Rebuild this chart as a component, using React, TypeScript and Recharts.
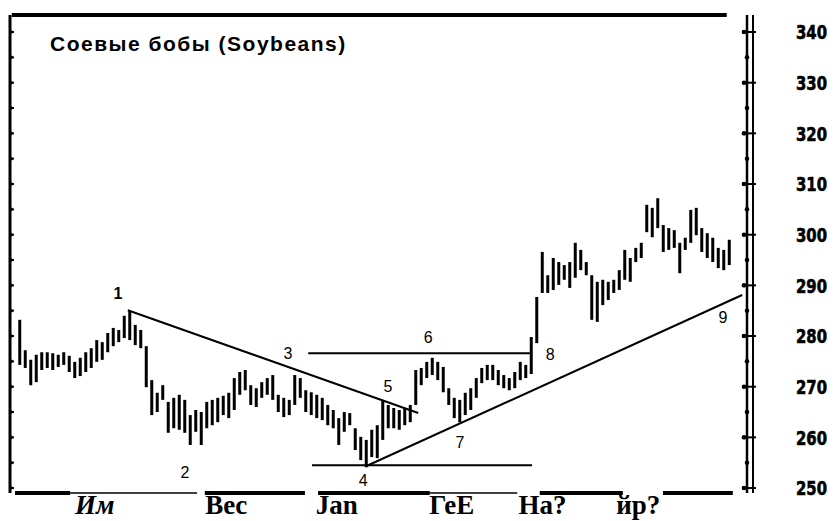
import { Bar, ComposedChart, ReferenceDot, ReferenceLine, XAxis, YAxis } from 'recharts'

// daily highs / lows, one per session
const highs = [
  283.2, 277.2, 275.3, 276.3, 276.8, 276.8, 276.6, 276.3, 276.8, 276.1,
  274.9, 275.7, 276.8, 277.6, 279.2, 278.8, 280.6, 281.6, 281.2, 284.0,
  284.9, 282.2, 281.2, 278.0, 271.3, 268.8, 270.3, 267.0, 267.8, 268.4,
  267.4, 264.4, 265.4, 265.0, 267.0, 267.4, 267.8, 268.2, 268.8, 271.7,
  272.9, 273.3, 270.3, 269.7, 270.9, 271.7, 272.3, 268.4, 267.8, 267.4,
  272.3, 271.7, 269.3, 268.9, 268.4, 267.8, 266.4, 265.4, 263.8, 265.0,
  264.8, 261.8, 260.1, 259.5, 261.5, 262.4, 267.4, 266.4, 265.8, 265.4,
  265.8, 266.4, 273.3, 273.7, 274.9, 275.7, 274.9, 273.9, 269.7, 267.8,
  267.4, 268.8, 269.7, 271.7, 273.7, 274.3, 274.3, 273.3, 272.3, 271.7,
  272.9, 274.9, 274.3, 279.8, 287.7, 296.6, 292.0, 295.4, 294.6, 294.0,
  294.6, 298.4, 297.0, 294.6, 292.0, 290.7, 291.1, 290.7, 291.1, 293.0,
  297.0, 295.4, 297.4, 298.4, 305.9, 305.3, 307.2, 301.9, 301.3, 300.9,
  298.4, 299.4, 304.9, 305.3, 301.3, 300.3, 299.4, 297.4, 297.0, 299.0,
]
const lows = [
  274.3, 273.7, 270.3, 270.9, 273.3, 273.7, 273.3, 273.9, 274.3, 272.9,
  271.7, 272.1, 272.9, 273.7, 274.9, 275.3, 276.8, 278.0, 278.8, 279.6,
  279.2, 278.2, 277.6, 269.9, 264.4, 265.0, 267.4, 260.9, 261.8, 261.5,
  260.9, 258.5, 261.1, 258.5, 261.8, 262.4, 263.0, 264.4, 263.8, 265.4,
  268.4, 269.3, 266.4, 266.0, 267.8, 268.4, 267.4, 265.0, 264.0, 264.4,
  266.4, 267.8, 265.0, 264.4, 263.8, 263.4, 262.4, 261.8, 258.5, 261.1,
  262.4, 257.5, 255.5, 254.1, 256.1, 255.9, 259.5, 261.8, 261.8, 261.5,
  262.4, 263.0, 266.4, 270.3, 271.7, 272.3, 271.3, 268.9, 266.4, 263.8,
  263.0, 264.4, 265.4, 267.8, 270.7, 271.3, 271.3, 270.3, 269.7, 269.3,
  269.7, 271.3, 271.7, 272.5, 278.6, 288.5, 288.5, 289.1, 290.1, 291.1,
  289.5, 291.5, 293.0, 292.0, 283.2, 282.8, 286.1, 287.1, 288.5, 289.1,
  291.1, 290.7, 294.6, 295.4, 300.5, 299.5, 301.3, 296.6, 297.0, 297.4,
  292.4, 297.0, 298.4, 299.9, 296.6, 295.4, 294.6, 293.4, 293.0, 294.0,
]

const minorTicks = [250, 255, 260, 265, 270, 275, 280, 285, 290, 295, 300, 305, 310, 315, 320, 325, 330, 335, 340]
const priceLabels = [250, 260, 270, 280, 290, 300, 310, 320, 330, 340]

const monthTicks = [13.6, 37.5, 57.6, 78.5, 95, 112.4]
const monthLabels = ['Им', 'Bec', 'Jan', 'ГеЕ', 'На?', 'йр?']

const pointNames = ['1', '2', '3', '4', '5', '6', '7', '8', '9']
const pointX = [17.8, 30.0, 48.7, 62.4, 66.9, 74.2, 80.0, 96.4, 127.8]
const pointY = [288.5, 253.2, 276.6, 251.6, 270.1, 279.8, 259.1, 276.3, 283.6]

// hand-drawn lines: [x1, y1, x2, y2] in session / price units
const trendLines = [
  [19.6, 285.1, 72.4, 264.8],
  [52.4, 276.6, 92.7, 276.6],
  [53.1, 254.5, 93.1, 254.5],
  [62.9, 254.3, 131.3, 288.1],
]

const Y_MIN = 249.02
const Y_MAX = 343.36
const X_MIN = -1.818
const X_MAX = 132.18

// frame pieces along the bottom edge (broken in the scan)
const bottomRule = [
  [-0.9, 9.1, 4],
  [9.1, 32.2, 1.5],
  [33.6, 51.8, 4],
  [54.2, 74.5, 4],
  [74.5, 90.4, 1.5],
  [94.5, 109.6, 4],
  [116.9, 129.6, 4],
]

const rows = highs.map((h, i) => ({ i, range: [lows[i], h] }))

const LeftTick = ({ x, y }: any) => (
  <g>
    <line x1={x} x2={x + 4} y1={y} y2={y} stroke="#000" strokeWidth={2} />
    <circle cx={x + 1} cy={y} r={1.8} fill="#000" />
  </g>
)

const InnerTick = ({ x, y, payload }: any) =>
  payload.value % 10 === 0 ? (
    <g>
      <line x1={x - 5} x2={x + 9} y1={y} y2={y} stroke="#000" strokeWidth={2} />
      <circle cx={x - 3} cy={y} r={2.3} fill="#000" />
    </g>
  ) : (
    <circle cx={x} cy={y} r={2.3} fill="#000" />
  )

const ScaleTick = ({ x, y, payload }: any) => (
  <text
    x={x + 43}
    y={y}
    dy="0.36em"
    textAnchor="start"
    fill="#000"
    stroke="#000"
    strokeWidth={0.6}
    fontFamily="'DejaVu Sans Condensed', 'Liberation Sans Narrow', sans-serif"
    fontWeight="bold"
    fontSize={20}
    textLength={31}
    lengthAdjust="spacingAndGlyphs"
  >
    {payload.value}
  </text>
)

const MonthTick = ({ x, y, payload }: any) => {
  const k = monthTicks.indexOf(payload.value)
  return (
    <text
      x={x}
      y={y + 21}
      textAnchor="middle"
      fill="#000"
      fontFamily="'Liberation Serif', 'Times New Roman', serif"
      fontWeight="bold"
      fontStyle={k === 0 ? 'italic' : 'normal'}
      fontSize={27}
    >
      {monthLabels[k]}
    </text>
  )
}

export default function App() {
  return (
    <div style={{ position: 'absolute', left: 0, top: 0, width: 835, height: 521, background: '#fff' }}>
      <ComposedChart width={835} height={521} data={rows} margin={{ top: 15, right: 0, bottom: 0, left: 0 }}>
        <XAxis
          dataKey="i"
          type="number"
          domain={[X_MIN, X_MAX]}
          allowDataOverflow
          ticks={monthTicks}
          interval={0}
          tick={<MonthTick />}
          axisLine={false}
          tickLine={false}
          tickSize={0}
          tickMargin={0}
          height={28}
        />
        <YAxis
          yAxisId="left"
          orientation="left"
          width={10}
          type="number"
          domain={[Y_MIN, Y_MAX]}
          allowDataOverflow
          ticks={minorTicks}
          interval={0}
          tick={<LeftTick />}
          tickLine={false}
          tickSize={0}
          tickMargin={0}
          axisLine={{ stroke: '#000', strokeWidth: 3 }}
        />
        <YAxis
          yAxisId="inner"
          orientation="right"
          width={6}
          type="number"
          domain={[Y_MIN, Y_MAX]}
          allowDataOverflow
          ticks={minorTicks}
          interval={0}
          tick={<InnerTick />}
          tickLine={false}
          tickSize={0}
          tickMargin={0}
          axisLine={{ stroke: '#000', strokeWidth: 2.5 }}
        />
        <YAxis
          yAxisId="scale"
          orientation="right"
          width={82}
          type="number"
          domain={[Y_MIN, Y_MAX]}
          allowDataOverflow
          ticks={priceLabels}
          interval={0}
          tick={<ScaleTick />}
          tickLine={false}
          tickSize={0}
          tickMargin={0}
          axisLine={{ stroke: '#000', strokeWidth: 2 }}
        />
        <ReferenceLine
          yAxisId="left"
          segment={[{ x: -1.5, y: Y_MAX }, { x: 128.5, y: Y_MAX }]}
          stroke="#000"
          strokeWidth={4}
        />
        {bottomRule.map(([a, b, w], k) => (
          <ReferenceLine
            key={'b' + k}
            yAxisId="left"
            segment={[{ x: a, y: Y_MIN }, { x: b, y: Y_MIN }]}
            stroke="#000"
            strokeWidth={w}
          />
        ))}
        <Bar yAxisId="left" dataKey="range" fill="#000" barSize={3} isAnimationActive={false} />
        {trendLines.map(([x1, y1, x2, y2], k) => (
          <ReferenceLine
            key={'t' + k}
            yAxisId="left"
            segment={[{ x: x1, y: y1 }, { x: x2, y: y2 }]}
            stroke="#000"
            strokeWidth={2}
          />
        ))}
        {pointNames.map((n, k) => (
          <ReferenceDot
            key={'p' + n}
            yAxisId="left"
            x={pointX[k]}
            y={pointY[k]}
            r={0}
            fill="none"
            stroke="none"
            label={{
              value: n,
              position: 'center',
              fill: '#000',
              fontSize: 16,
              fontWeight: k === 0 ? 'bold' : 'normal',
              fontFamily: "'Liberation Sans', Arial, sans-serif",
            }}
          />
        ))}
      </ComposedChart>
      <div
        style={{
          position: 'absolute',
          left: 50,
          top: 34,
          fontFamily: "'Liberation Sans', Arial, sans-serif",
          fontWeight: 'bold',
          fontSize: 21,
          lineHeight: '20px',
          letterSpacing: 1.5,
          color: '#000',
          whiteSpace: 'nowrap',
        }}
      >
        Соевые бобы (Soybeans)
      </div>
    </div>
  )
}
